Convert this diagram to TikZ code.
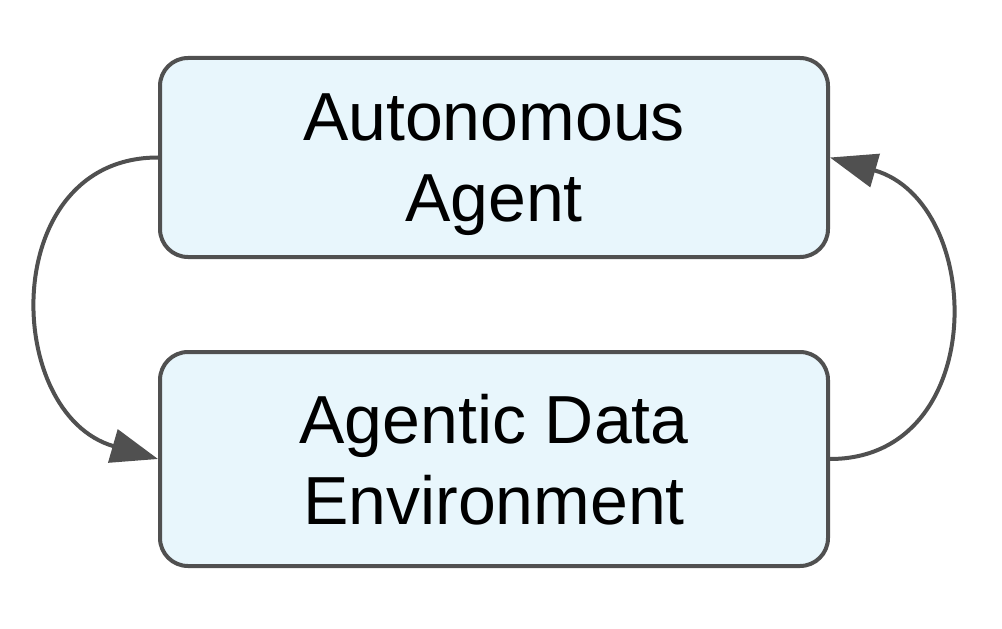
\documentclass[tikz,border=0pt]{standalone}
\usepackage{fontspec}
\setmainfont{Liberation Sans}
\usetikzlibrary{arrows.meta}
\definecolor{boxfill}{HTML}{E8F6FC}
\definecolor{edge}{HTML}{505050}
\tikzset{
  x=0.5pt, y=0.5pt,
  box/.style={draw=edge, fill=boxfill, line width=2pt, rounded corners=14pt,
    minimum width=334pt, align=center, inner sep=0pt, text depth=0pt,
    font=\fontsize{34}{40.5}\selectfont, text=black},
  conn/.style={draw=edge, line width=2pt,
    -{Triangle[length=23.5pt,width=17pt]}}
}
\begin{document}
\begin{tikzpicture}
\useasboundingbox (0,0) rectangle (1002,628);
\node[box, minimum height=99.5pt] (top) at (494,470.5) {Autonomous\\Agent};
\node[box, minimum height=107pt] (bot) at (494,169) {Agentic Data\\Environment};
\draw[conn] (top.west) .. controls +(-160,0) and +(-156,45) .. (bot.west);
\draw[conn] (bot.east) .. controls +(160,0) and +(156,-45) .. (top.east);
\end{tikzpicture}
\end{document}
